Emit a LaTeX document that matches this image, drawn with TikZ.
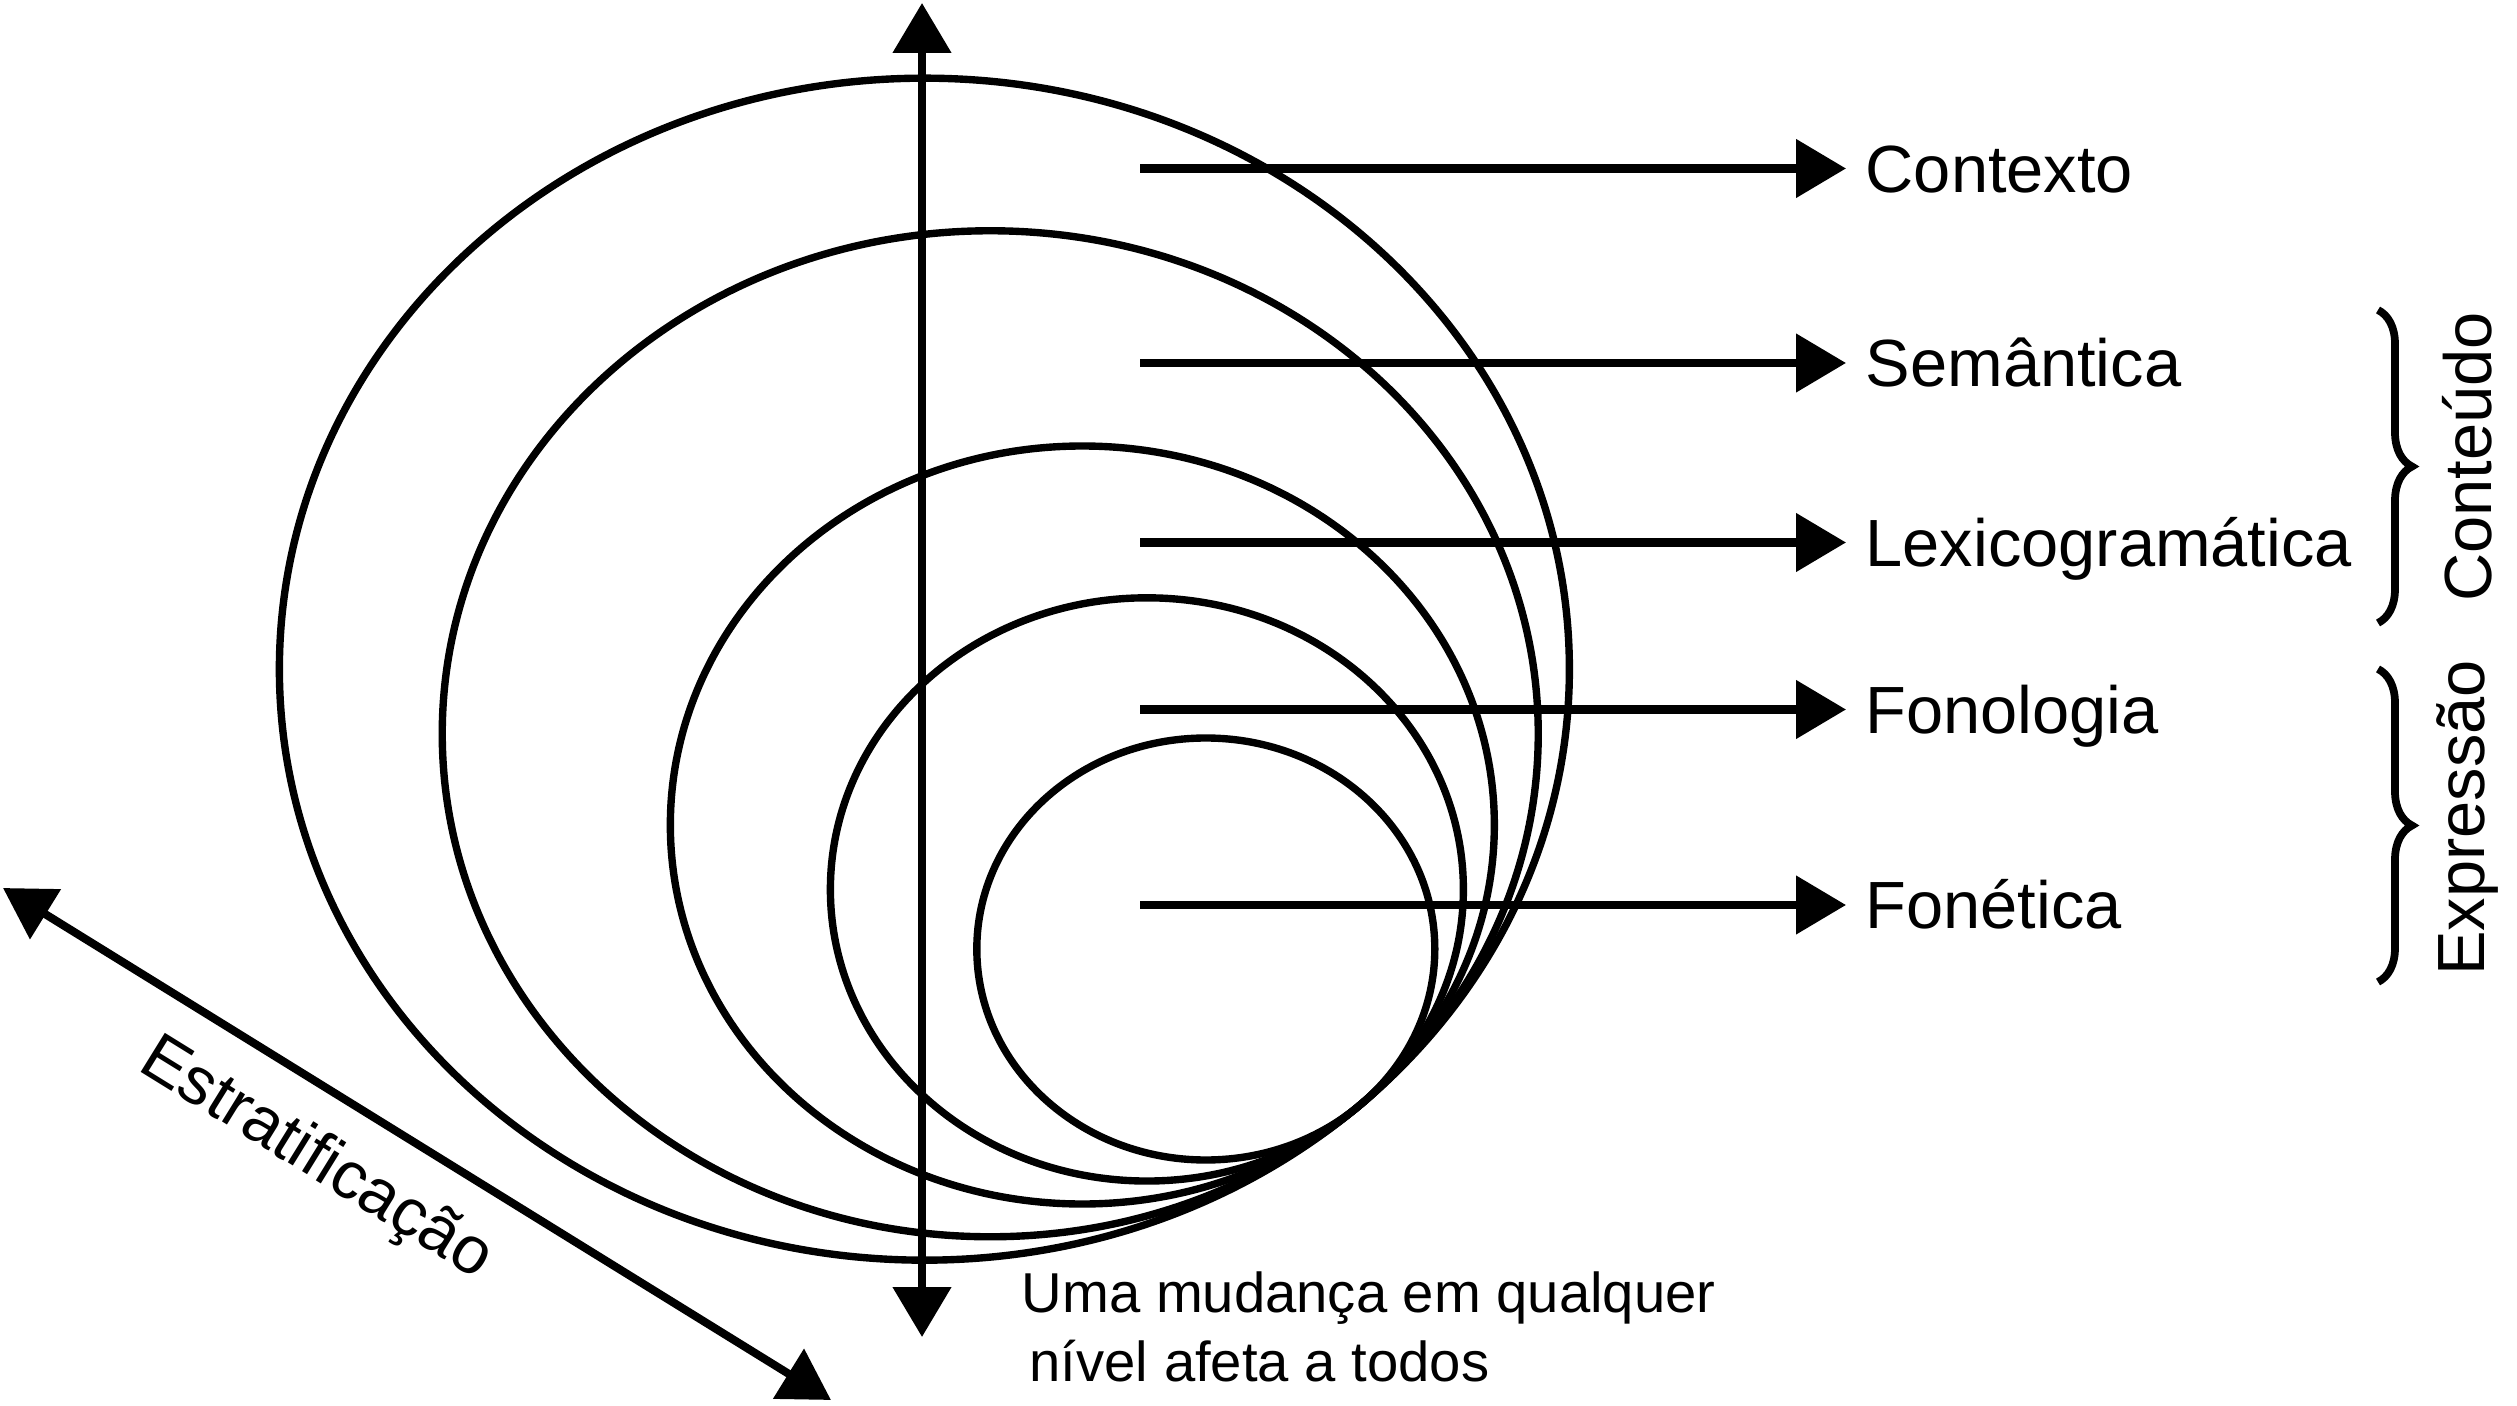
\documentclass[tikz,border=0pt]{standalone}
\usepackage{fontspec}
\setmainfont{Liberation Sans}[Ligatures=NoCommon]
\usetikzlibrary{arrows.meta,decorations.pathreplacing}

\begin{document}
\begin{tikzpicture}[x=1cm, y=1cm, font=\fontsize{19}{23}\selectfont,
  ring/.style={line width=2.1pt},
  pfeil/.style={line width=2.3pt, -{Triangle[length=0.5cm, width=0.57cm]}},
  doppelpfeil/.style={line width=2.3pt,
    {Triangle[length=0.5cm, width=0.57cm]}-{Triangle[length=0.5cm, width=0.57cm]}},
  ebene/.style={anchor=west, text height=13.6pt, text depth=0pt,
    inner xsep=0.19cm, inner ysep=0pt},
  klammer/.style={decorate, decoration={brace, amplitude=0.34cm}, line width=2.2pt},
  seite/.style={rotate=90, inner sep=0pt}]
  \useasboundingbox (0,0) rectangle (25.17,14.05);

  % Ellipsen, alle beruehren sich unten rechts
  \foreach \a/\b in {6.45/5.91, 5.48/5.03, 4.12/3.79, 3.165/2.916, 2.29/2.11} {
    \pgfmathsetmacro{\D}{sqrt(\a*\a*0.4132 + \b*\b*0.5868)}
    \pgfmathsetmacro{\cx}{13.6 - \a*\a*0.6428/\D}
    \pgfmathsetmacro{\cy}{3.0 + \b*\b*0.7660/\D}
    \draw[ring] (\cx,\cy) ellipse [x radius=\a, y radius=\b];
  }

  % Senkrechter Pfeil
  \coordinate (oben) at (9.22,14.02);
  \coordinate (unten) at (9.22,0.68);
  \draw[doppelpfeil] (oben) -- (unten);

  % Ebenen mit Pfeilen
  \foreach \txt/\y/\n in {Contexto/12.365/kontext, Semântica/10.42/semantik,
      Lexicogramática/8.625/lexiko, Fonologia/6.955/phono, Fonética/5.00/phonetik} {
    \coordinate (s\n) at (11.40,\y);
    \node[ebene] (\n) at (18.46,\y) {\txt};
    \draw[pfeil] (s\n) -- (\n.west);
  }

  % Klammern
  \coordinate (k1o) at (23.78,10.95);
  \coordinate (k1u) at (23.78,7.82);
  \coordinate (k2o) at (23.78,7.36);
  \coordinate (k2u) at (23.78,4.23);
  \draw[klammer] (k1o) -- (k1u);
  \draw[klammer] (k2o) -- (k2u);
  \node[seite] (inhalt) at (24.67,9.48) {Conteúdo};
  \node[seite] (ausdruck) at (24.67,5.87) {Expressão};

  % Stratifikation
  \coordinate (links) at (0.03,5.17);
  \coordinate (rechts) at (8.31,0.05);
  \draw[doppelpfeil] (links) -- node[pos=0.42, sloped, below=0.2cm] (strat) {Estratificação} (rechts);

  % Hinweis unten
  \node[anchor=north west, align=left, inner sep=0pt, font=\fontsize{16}{19.6}\selectfont]
    (hinweis) at (10.21,1.34) {Uma mudança em qualquer\\\hspace*{0.08cm}nível afeta a todos};
\end{tikzpicture}
\end{document}
